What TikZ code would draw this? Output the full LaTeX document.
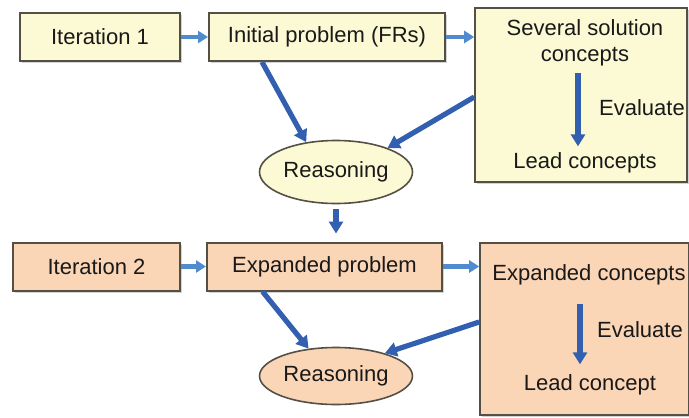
\documentclass[tikz,border=0pt]{standalone}
\usepackage{fontspec}
\setmainfont{Liberation Sans}
\usepackage{tikz}
\usetikzlibrary{shapes.geometric, arrows.meta, positioning, calc, shadows}

\definecolor{creamfill}{RGB}{252,250,212}
\definecolor{salmonfill}{RGB}{250,213,182}
\definecolor{boxline}{RGB}{85,80,70}
\definecolor{lightarrow}{RGB}{80,140,205}
\definecolor{darkarrow}{RGB}{50,95,175}
\definecolor{textgray}{RGB}{25,25,25}

\begin{document}
\begin{tikzpicture}[x=0.5pt, y=-0.5pt,
      box/.style={draw=boxline, line width=1pt, minimum height=24pt,
      inner sep=0pt, font=\fontsize{11pt}{13pt}\selectfont, text=textgray,
      drop shadow={shadow xshift=1pt, shadow yshift=-1pt, opacity=0.35}},
      bigbox/.style={draw=boxline, line width=0.8pt, inner sep=0pt,
      drop shadow={shadow xshift=1pt, shadow yshift=-1pt, opacity=0.35}},
      reason/.style={ellipse, draw=boxline, line width=0.8pt, inner sep=0pt,
      minimum width=76.5pt, font=\fontsize{11pt}{13pt}\selectfont,
      text=textgray},
      label/.style={font=\fontsize{11pt}{13pt}\selectfont, text=textgray,
      align=center, inner sep=0pt},
      steparrow/.style={line width=2.2pt, lightarrow,
      -{Triangle[length=5pt, width=6pt]}},
      flowarrow/.style={line width=2.6pt, darkarrow,
      -{Triangle[length=6pt, width=7pt]}} ]
    \useasboundingbox (0,0) rectangle (689,417);

    % Iteration 1
    \node[box, fill=creamfill, minimum width=80pt] (it1) at (100,37)
    {Iteration 1}; \node[box, fill=creamfill, minimum width=118pt] (init) at
    (327,37) {Initial problem (FRs)}; \node[bigbox, fill=creamfill,
    minimum width=106pt, minimum height=87pt] (sol1) at (581,95) {};
    \node[reason, fill=creamfill, minimum height=31.5pt] (reas1) at (336,172)
    {Reasoning};

    % Texts in the concept box
    \node[label] (sev1) at (585,43) {Several solution\\concepts};
    \node[label] (lead1) at (585,163) {Lead concepts}; \node[label] (eval1) at
    (642,108) {Evaluate};

    % Iteration 2
    \node[box, fill=salmonfill, minimum width=83.5pt] (it2) at (96.5,266.5)
    {Iteration 2}; \node[box, fill=salmonfill, minimum width=117.5pt] (exp)
    at (324.5,266.5) {Expanded problem}; \node[bigbox, fill=salmonfill,
    minimum width=104.5pt, minimum height=86pt] (sol2) at (584.5,329) {};
    \node[reason, fill=salmonfill, minimum height=28.5pt] (reas2) at
    (336,376) {Reasoning};

    \node[label] (sev2) at (589,275) {Expanded concepts}; \node[label]
    (lead2) at (590,385) {Lead concept}; \node[label] (eval2) at (640,330)
    {Evaluate};

    % Arrows along the rows
    \draw[steparrow] (it1.east) -- (init.west); \draw[steparrow] (init.east)
    -- (init.east -| sol1.west); \draw[steparrow] (it2.east) -- (exp.west);
    \draw[steparrow] (exp.east) -- (exp.east -| sol2.west);

    % Arrows into reasoning
    \draw[flowarrow] ([xshift=-32.5pt]init.south) -- (reas1.135);
    \draw[flowarrow] ([yshift=-1pt]sol1.west) -- (reas1.25);
    \draw[flowarrow, shorten <=2.5pt, shorten >=4pt] (reas1.south) --
    (reas1.south |- exp.north); \draw[flowarrow] ([xshift=-31pt]exp.south)
    -- (reas2.135); \draw[flowarrow] ([yshift=3.5pt]sol2.west) --
    (reas2.25);

    % Evaluate arrows
    \draw[flowarrow, shorten <=3pt, shorten >=3pt] ([xshift=-3.5pt]sev1.south)
    -- ([xshift=-3.5pt]lead1.north); \draw[flowarrow, shorten <=9pt,
    shorten >=5pt] ([xshift=-4.5pt]sev2.south) -- ([xshift=-5pt]lead2.north);

\end{tikzpicture}
\end{document}
